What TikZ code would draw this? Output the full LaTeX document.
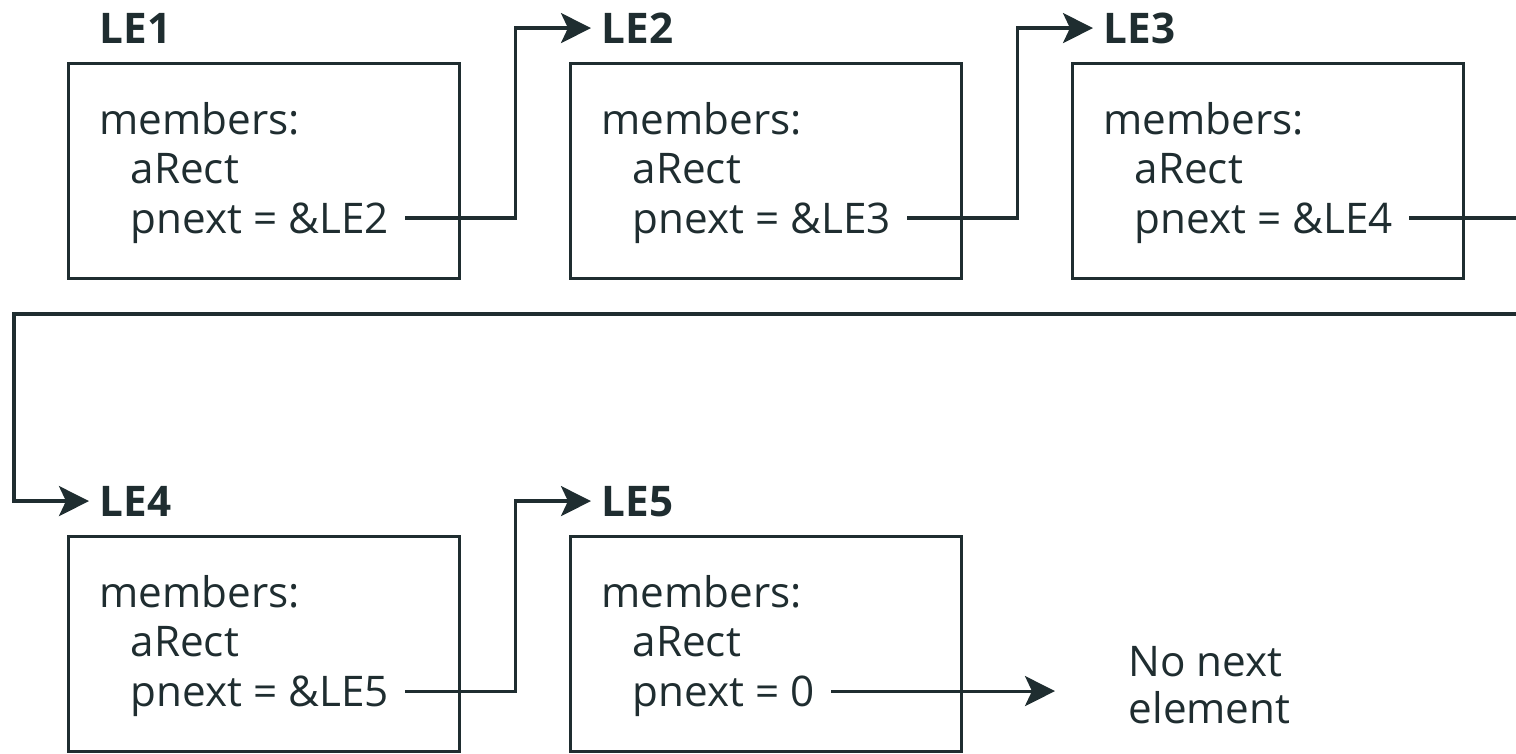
\documentclass[tikz,border=0pt]{standalone}
\usepackage{fontspec}
\setmainfont{Open Sans}
\usepackage{tikz}
\usetikzlibrary{arrows.meta,calc}
\definecolor{ink}{HTML}{1F2D30}

\tikzset{
    elembox/.style={draw=ink, line width=0.9pt, minimum width=3.91cm, minimum height=2.15cm, inner sep=0pt, anchor=north west},
    elemname/.style={anchor=base west, inner xsep=1mm, inner ysep=0pt, text height=8.5pt, text depth=0pt, font=\fontsize{12}{14}\selectfont\bfseries, text=ink},
    member/.style={anchor=base west, inner sep=0pt, text height=8.5pt, text depth=0pt, font=\fontsize{12}{14}\selectfont, text=ink},
    link/.style={draw=ink, line width=0.9pt, -{Stealth[length=3mm, width=3mm, inset=0.7mm]}}
}

\begin{document}
\begin{tikzpicture}[x=0.01cm,y=-0.01cm]
            \useasboundingbox (0,0) rectangle (1516,753);
            % the five list elements
            \foreach \n/\x/\y/\v in {1/67/62/\&LE2, 2/569/62/\&LE3, 3/1071/62/\&LE4, 4/67/535/\&LE5, 5/569/535/0}{
                \node[elembox] (box\n) at (\x,\y) {};
                \node[elemname] (name\n) at (\x+22,\y-19) {LE\n};
                \node[member] (mem\n) at (\x+32,\y+72) {members:};
                \node[member] (obj\n) at (\x+63,\y+121) {aRect};
                \node[member] (ptr\n) at (\x+63,\y+171) {pnext = \v};
            }
            \node[anchor=north west, align=left, inner sep=0pt, text=ink, font=\fontsize{12}{13.4}\selectfont] (none) at (1128,646) {No next\\element};

            \coordinate (gap1) at ($(box1.east)!.5!(box2.west)$);
            \coordinate (gap2) at ($(box2.east)!.5!(box3.west)$);
            \coordinate (gap4) at ($(box4.east)!.5!(box5.west)$);
            \coordinate (wrapR) at (1525,314);
            \coordinate (wrapL) at (14,314);
            \coordinate (stop5) at ($(none.west |- ptr5.east)+(-73,0)$);

            % pnext links
            \draw[link] ([xshift=1.6mm]ptr1.east) -| (gap1) |- (name2.west);
            \draw[link] ([xshift=1.6mm]ptr2.east) -| (gap2) |- (name3.west);
            \draw[link] ([xshift=1.6mm]ptr3.east) -| (wrapR) -- (wrapL) |- (name4.west);
            \draw[link] ([xshift=1.6mm]ptr4.east) -| (gap4) |- (name5.west);
            \draw[link] ([xshift=1.6mm]ptr5.east) -- (stop5);
        \end{tikzpicture}
\end{document}
